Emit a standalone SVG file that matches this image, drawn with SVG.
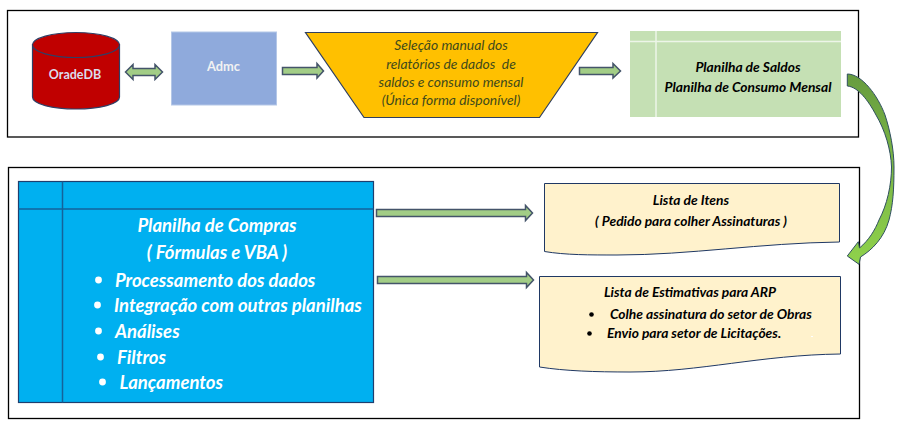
<svg xmlns="http://www.w3.org/2000/svg" width="902" height="423" viewBox="0 0 902 423">
<style>
text{font-family:Lato,"Open Sans","Liberation Sans",sans-serif}
.frame{fill:#fff;stroke:#000;stroke-width:1.3}
.arr{fill:#a2cd86;stroke:#44546a;stroke-width:1.5}
.b{font-weight:700}
.i{font-style:italic}
.m{text-anchor:middle}
.k{fill:#000;font-weight:700;font-style:italic;font-size:13.8px}
.w{fill:#fff;font-weight:700;font-style:italic}
.o{fill:#3f4a1c;font-style:italic;font-size:13.9px;text-anchor:middle}
</style>
<defs>
<linearGradient id="cv" x1="0" y1="0" x2="0" y2="1"><stop offset="0" stop-color="#679c3f"/><stop offset="1" stop-color="#8fd24c"/></linearGradient>
</defs>
<g id="frames">
<rect class="frame" x="7.5" y="10.5" width="851" height="126.5"/>
<rect class="frame" x="8.5" y="167.5" width="851" height="251"/>
</g>
<g id="oracledb">
<path d="M32.5 44.5V97C32.5 104 52 109 76 109S119.5 104 119.5 97V44.5Z" fill="#c00000" stroke="#2f3f66" stroke-width="1.2"/>
<ellipse cx="76" cy="45" rx="43.5" ry="12.5" fill="#c00000" stroke="#2f3f66" stroke-width="1.2"/>
<text x="75" y="79" class="b m" font-size="12.5" fill="#dcdcec">OradeDB</text>
</g>
<g id="admc">
<rect x="171.5" y="32" width="105" height="73" fill="#8faadc" stroke="#b4c7e7"/>
<text x="223.5" y="71" class="b m" font-size="12.8" fill="#f2f2f2">Admc</text>
</g>
<g id="selecao">
<path d="M305.5 32.5H597.5L539.5 117.5H364Z" fill="#ffc000" stroke="#2f3f5f" stroke-width="1.2"/>
<text x="451" y="50" class="o">Seleção manual dos</text>
<text x="451" y="69" class="o" xml:space="preserve">relatórios de dados  de</text>
<text x="451" y="87" class="o">saldos e consumo mensal</text>
<text x="451" y="105" class="o">(Única forma disponível)</text>
</g>
<g id="planilha-saldos">
<rect x="630" y="31" width="211" height="86" fill="#c5e0b4"/>
<path d="M630 41.5H841M656 31V117" stroke="#edf5e8" stroke-width="1.5" fill="none"/>
<text x="748" y="72" class="k m">Planilha de Saldos</text>
<text x="748" y="92" class="k m">Planilha de Consumo Mensal</text>
</g>
<g id="planilha-compras">
<rect x="18.5" y="181.5" width="355" height="221" fill="#00b0f0" stroke="#1f3f6f" stroke-width="1.2"/>
<path d="M18.5 209H373.5M62.5 181.5V402.5" stroke="#14629a" stroke-width="1.5" fill="none"/>
<text x="217" y="231.5" class="w m" font-size="18.5">Planilha de Compras</text>
<text x="217" y="258.5" class="w m" font-size="18.5">( Fórmulas e VBA )</text>
<g font-size="18.5">
<circle cx="98.5" cy="280" r="3.4" fill="#fff"/><text x="115" y="287" class="w">Processamento dos dados</text>
<circle cx="97.5" cy="305" r="3.4" fill="#fff"/><text x="114" y="312" class="w">Integração com outras planilhas</text>
<circle cx="98.5" cy="331" r="3.4" fill="#fff"/><text x="115" y="338" class="w">Análises</text>
<circle cx="100.5" cy="357" r="3.4" fill="#fff"/><text x="117" y="364" class="w">Filtros</text>
<circle cx="102.5" cy="382" r="3.4" fill="#fff"/><text x="119.5" y="389" class="w">Lançamentos</text>
</g>
</g>
<g id="lista-itens">
<path d="M544.5 183.5H839.5V242C760 243 690 255 617 255 590 255 565 255 544.5 251.5Z" fill="#fff2cc" stroke="#1f3864" stroke-width="1"/>
<text x="691" y="205" class="k m">Lista de Itens</text>
<text x="691" y="226" class="k m">( Pedido para colher Assinaturas )</text>
</g>
<g id="lista-estimativas">
<path d="M539.5 276.5H840.5V354C760 355 700 372 630 372 595 372 565 371 539.5 367Z" fill="#fff2cc" stroke="#1f3864" stroke-width="1"/>
<text x="604" y="297" class="k">Lista de Estimativas para ARP</text>
<circle cx="591.5" cy="314.5" r="2.3" fill="#000"/><text x="610" y="319" class="k">Colhe assinatura do setor de Obras</text>
<circle cx="589.5" cy="333.5" r="2.3" fill="#000"/><text x="607" y="338" class="k">Envio para setor de Licitações.</text>
<rect x="811" y="336" width="2" height="1" fill="#fff"/>
</g>
<g id="connectors">
<path class="arr" d="M125.5 72 133 64.5V68.5H155V64.5L162.5 72 155 79.5V75.5H133V79.5Z"/>
<path class="arr" d="M282.5 67.5H317V63.5L323.5 71 317 78V74.5H282.5Z"/>
<path class="arr" d="M579.5 67.5H613V63.5L620.5 71 613 78V74.5H579.5Z"/>
<path class="arr" d="M376.5 209.5H525.5V205.5L532.5 213 525.5 220.5V216.5H376.5Z"/>
<path class="arr" d="M377.5 276.5H526.5V272.5L533.5 280 526.5 287.5V283.5H377.5Z"/>
<path d="M847.3 74C862 74 878 96 885 115 890 130 894 150 894 167 894 190 893 205 889 220 884 238 872 250 860.5 257L859 264.3 847.3 256 858.3 241.7 859.5 248C869 240 875 230 879 220 887 205 891.5 185 891.5 167 891 150 885 130 876 115 868 100 858 87 847.3 86Z" fill="url(#cv)" stroke="#2f4f5f" stroke-width="1"/>
</g>
</svg>
